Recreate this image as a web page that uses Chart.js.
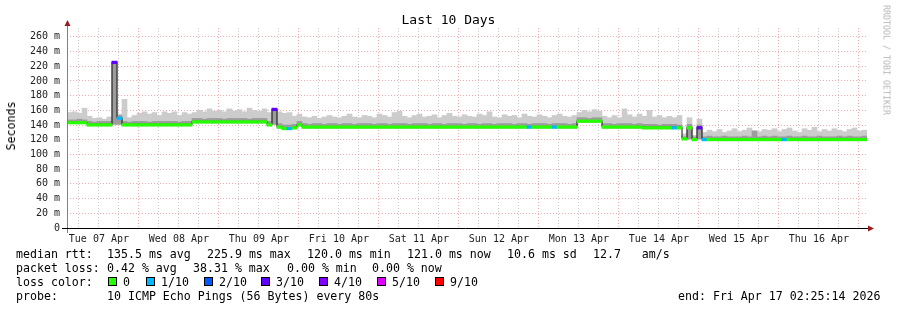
<!DOCTYPE html>
<html>
<head>
<meta charset="utf-8">
<script src="https://cdn.jsdelivr.net/npm/chart.js@4/dist/chart.umd.min.js"></script>
<style>
  body { margin: 0; background: #fff; }
  #wrap { position: relative; width: 897px; height: 310px; font-family: 'DejaVu Sans Mono', monospace; color: #000; }
  #wrap canvas { position: absolute; left: 0; top: 0; }
  .t { position: absolute; white-space: pre; font-size: 11.6px; line-height: 14px; }
  .box { position: absolute; width: 9px; height: 9px; box-sizing: border-box; border: 1px solid #000; }
</style>
</head>
<body>
<div id="wrap">
  <canvas id="smokeChart" width="897" height="310"></canvas>
  <div class="t" style="left:0;top:12px;width:897px;text-align:center;font-size:13px;line-height:16px;">Last 10 Days</div>
  <div class="t" style="left:11px;top:126px;transform:translate(-50%,-50%) rotate(-90deg);line-height:12px;">Seconds</div>
  <div class="t" style="left:886px;top:60px;transform:translate(-50%,-50%) rotate(90deg);font-size:8.3px;line-height:9px;color:#b4b4b4;">RRDTOOL / TOBI OETIKER</div>

  <div class="t" style="left:16px;top:247px;">median rtt:</div>
  <div class="t" style="left:107px;top:247px;">135.5 ms avg</div>
  <div class="t" style="left:207px;top:247px;">225.9 ms max</div>
  <div class="t" style="left:307px;top:247px;">120.0 ms min</div>
  <div class="t" style="left:407px;top:247px;">121.0 ms now</div>
  <div class="t" style="left:507px;top:247px;">10.6 ms sd</div>
  <div class="t" style="left:593px;top:247px;">12.7   am/s</div>

  <div class="t" style="left:16px;top:261px;">packet loss:</div>
  <div class="t" style="left:107px;top:261px;">0.42 % avg</div>
  <div class="t" style="left:193px;top:261px;">38.31 % max</div>
  <div class="t" style="left:287px;top:261px;">0.00 % min</div>
  <div class="t" style="left:372px;top:261px;">0.00 % now</div>

  <div class="t" style="left:16px;top:275px;">loss color:</div>
  <div id="lossLegend"></div>

  <div class="t" style="left:16px;top:289px;">probe:</div>
  <div class="t" style="left:107px;top:289px;">10 ICMP Echo Pings (56 Bytes) every 80s</div>
  <div class="t" style="left:678px;top:289px;">end: Fri Apr 17 02:25:14 2026</div>
</div>
<script>
// 10 days, one bucket = 1.5 h, starting Tue 07 Apr 02:25:14
const bucketHours = 1.5;
const startHour = 2 + 25 / 60 + 14 / 3600;
const dayLabels = ['Tue 07 Apr', 'Wed 08 Apr', 'Thu 09 Apr', 'Fri 10 Apr', 'Sat 11 Apr',
                   'Sun 12 Apr', 'Mon 13 Apr', 'Tue 14 Apr', 'Wed 15 Apr', 'Thu 16 Apr'];

// median rtt (ms)
const medianRtt = [
  144,144,144,144,141,141,141,141,141,226,150,141,141,141,141,141,141,141,141,141,
  141,141,141,141,141,145,145,145,145,145,145,145,145,145,145,145,145,145,145,145,
  141,162,138,136,136,137,141,138,138,138,138,138,138,138,138,138,138,138,138,138,
  138,138,138,138,138,138,138,138,138,138,138,138,138,138,138,138,138,138,138,138,
  138,138,138,138,138,138,138,138,138,138,138,138,138,138,138,138,138,138,138,138,
  138,138,146,146,146,146,146,138,138,138,138,138,138,138,138,137,137,137,137,137,
  137,137,137,122,137,121,137,121,121,121,121,121,121,121,121,121,121,121,121,121,
  121,121,121,121,121,121,121,121,121,121,121,121,121,121,121,121,121,121,121,121
];
// lowest ping of each bucket (ms)
const pingLow = [
  142,142,142,142,139,139,139,139,139,141,141,139,139,139,139,139,139,139,139,139,
  139,139,139,139,139,143,143,143,143,143,143,143,143,143,143,143,143,143,143,143,
  139,141,136,134,134,135,139,136,136,136,136,136,136,136,136,136,136,136,136,136,
  136,136,136,136,136,136,136,136,136,136,136,136,136,136,136,136,136,136,136,136,
  136,136,136,136,136,136,136,136,136,136,136,136,136,136,136,136,136,136,136,136,
  136,136,144,144,144,144,144,136,136,136,136,136,136,136,136,135,135,135,135,135,
  135,135,135,120,121,119,121,119,119,119,119,119,119,119,119,119,119,119,119,119,
  119,119,119,119,119,119,119,119,119,119,119,119,119,119,119,119,119,119,119,119
];
// upper edge of the dense smoke (ms)
const pingMid = [
  147,147,148,147,145,144,145,145,145,226,153,145,144,145,145,145,144,145,145,145,
  145,145,144,145,145,149,149,148,149,149,149,148,149,149,149,149,148,149,149,149,
  145,162,142,140,140,141,145,142,141,142,142,141,142,142,141,142,142,141,142,142,
  142,141,142,142,141,142,142,142,141,142,142,142,141,142,142,141,142,142,142,141,
  142,142,141,142,142,141,142,142,142,141,142,142,141,142,142,142,141,142,142,142,
  141,142,150,150,149,150,150,142,142,141,142,142,142,141,142,141,141,141,140,141,
  141,141,140,124,141,124,140,124,125,124,124,125,124,124,124,125,124,132,124,125,
  124,125,124,124,125,124,124,125,124,124,125,124,124,124,125,124,125,124,124,125
];
// highest ping of each bucket (ms)
const pingHigh = [
  157,158,156,163,152,149,150,148,151,226,155,175,150,153,156,158,155,157,153,158,
  156,158,153,157,155,157,160,158,162,159,160,158,162,159,161,158,163,160,159,162,
  157,163,158,156,157,152,155,151,150,152,149,151,153,151,150,152,155,151,150,153,
  152,150,155,153,151,157,159,152,150,153,155,151,152,154,150,153,156,152,151,154,
  152,151,155,153,158,151,150,154,152,153,150,155,152,151,154,152,150,153,155,152,
  151,153,157,160,158,161,159,152,150,153,150,162,154,151,155,152,160,151,153,150,
  152,150,153,128,150,126,148,130,133,131,134,130,132,135,131,133,136,132,131,134,
  133,135,131,134,136,132,130,135,133,137,131,134,132,135,133,131,134,136,132,133
];
// lost pings out of 10
const lossCount = [
  0,0,0,0,0,0,0,0,0,3,1,0,0,0,0,0,0,0,0,0,
  0,0,0,0,0,0,0,0,0,0,0,0,0,0,0,0,0,0,0,0,
  0,3,0,0,1,0,0,0,0,0,0,0,0,0,0,0,0,0,0,0,
  0,0,0,0,0,0,0,0,0,0,0,0,0,0,0,0,0,0,0,0,
  0,0,0,0,0,0,0,0,0,0,0,0,1,0,0,0,0,1,0,0,
  0,0,0,0,0,0,0,0,0,0,0,0,0,0,0,0,0,0,0,0,
  0,1,0,0,0,0,3,1,0,0,0,0,0,0,0,0,0,0,0,0,
  0,0,0,1,0,0,0,0,0,0,0,0,0,0,0,0,0,0,0,0
];

const lossSteps  = [0, 1, 2, 3, 4, 5, 9];
const lossLabels = ['0', '1/10', '2/10', '3/10', '4/10', '5/10', '9/10'];
const lossColors = ['#26ff00', '#00b8ff', '#0059ff', '#5e00ff', '#7e00ff', '#dd00ff', '#ff0000'];
const lossBoxX   = [108, 146, 204, 261, 319, 377, 435];

function lossColor(n) {
  let c = lossColors[0];
  lossSteps.forEach((s, i) => { if (n >= s) c = lossColors[i]; });
  return c;
}

// legend boxes
const legend = document.getElementById('lossLegend');
lossLabels.forEach((lab, i) => {
  const b = document.createElement('div');
  b.className = 'box';
  b.style.left = lossBoxX[i] + 'px';
  b.style.top = '277px';
  b.style.background = lossColors[i];
  legend.appendChild(b);
  const t = document.createElement('div');
  t.className = 't';
  t.style.left = (lossBoxX[i] + 15) + 'px';
  t.style.top = '275px';
  t.textContent = lab;
  legend.appendChild(t);
});

const centers = medianRtt.map((_, i) => (i + 0.5) * bucketHours);
const xTicks = [];
for (let k = 1; k <= 40; k++) xTicks.push(6 * k - startHour);

const redGrid = 'rgba(225, 90, 90, 0.5)';
const grayGrid = 'rgba(140, 140, 140, 0.45)';

const axesPlugin = {
  id: 'rrdAxes',
  afterDraw(chart) {
    const { ctx, chartArea: a } = chart;
    ctx.save();
    ctx.lineWidth = 1;
    ctx.strokeStyle = '#808080';
    ctx.beginPath();
    ctx.moveTo(a.left + 0.5, a.bottom + 5);
    ctx.lineTo(a.left + 0.5, a.top - 4);
    ctx.stroke();
    ctx.strokeStyle = '#000';
    ctx.beginPath();
    ctx.moveTo(a.left - 5, a.bottom + 0.5);
    ctx.lineTo(a.right + 2, a.bottom + 0.5);
    ctx.stroke();
    ctx.fillStyle = '#9b1c1c';
    ctx.beginPath();
    ctx.moveTo(a.left + 0.5, a.top - 8);
    ctx.lineTo(a.left - 2.5, a.top - 2);
    ctx.lineTo(a.left + 3.5, a.top - 2);
    ctx.fill();
    ctx.beginPath();
    ctx.moveTo(a.right + 7, a.bottom + 0.5);
    ctx.lineTo(a.right + 1, a.bottom - 2.5);
    ctx.lineTo(a.right + 1, a.bottom + 3.5);
    ctx.fill();
    ctx.restore();
  }
};

const barBase = { type: 'bar', grouped: false, barPercentage: 1, categoryPercentage: 1, borderWidth: 0 };

new Chart(document.getElementById('smokeChart').getContext('2d'), {
  type: 'bar',
  data: {
    datasets: [
      Object.assign({}, barBase, {
        label: 'loss',
        data: medianRtt.map((m, i) => ({ x: centers[i], y: [m - 2.5, m + 1] })),
        backgroundColor: lossCount.map(lossColor),
        order: 1
      }),
      {
        type: 'line',
        label: 'median',
        data: medianRtt.map((m, i) => ({ x: centers[i], y: m })),
        stepped: 'middle',
        borderColor: '#111',
        borderWidth: 1,
        pointRadius: 0,
        order: 2
      },
      Object.assign({}, barBase, {
        label: 'smoke dense',
        data: pingLow.map((v, i) => ({ x: centers[i], y: [v, pingMid[i]] })),
        backgroundColor: '#9c9c9c',
        order: 3
      }),
      Object.assign({}, barBase, {
        label: 'smoke',
        data: pingLow.map((v, i) => ({ x: centers[i], y: [v, pingHigh[i]] })),
        backgroundColor: '#cccccc',
        order: 4
      })
    ]
  },
  options: {
    responsive: false,
    animation: false,
    devicePixelRatio: 1,
    layout: { padding: { top: 28, right: 30, left: 0, bottom: 0 } },
    plugins: { legend: { display: false }, tooltip: { enabled: false }, title: { display: false } },
    scales: {
      x: {
        type: 'linear',
        min: 0,
        max: 240,
        offset: false,
        afterFit: s => { s.height = 82; },
        afterBuildTicks: s => { s.ticks = xTicks.map(v => ({ value: v })); },
        ticks: {
          autoSkip: false,
          maxRotation: 0,
          padding: 5,
          color: '#222',
          font: { family: 'DejaVu Sans Mono', size: 10 },
          callback: (v, i) => ((i + 1) % 4 === 2 ? dayLabels[(i - 1) / 4] : '')
        },
        grid: {
          offset: false,
          drawTicks: false,
          color: c => (Math.round((c.tick.value + startHour) / 6) % 4 === 0 ? redGrid : grayGrid)
        },
        border: { display: false, dash: [1, 2] }
      },
      y: {
        min: 0,
        max: 272,
        afterFit: s => { s.width = 67; },
        ticks: {
          stepSize: 10,
          includeBounds: false,
          padding: 7,
          color: '#222',
          font: { family: 'DejaVu Sans Mono', size: 10 },
          callback: v => (v % 20 === 0 ? (v === 0 ? '0' : v + ' m') : '')
        },
        grid: {
          drawTicks: false,
          color: c => (c.tick.value % 20 === 0 ? redGrid : grayGrid)
        },
        border: { display: false, dash: [1, 2] }
      }
    }
  },
  plugins: [axesPlugin]
});
</script>
</body>
</html>
